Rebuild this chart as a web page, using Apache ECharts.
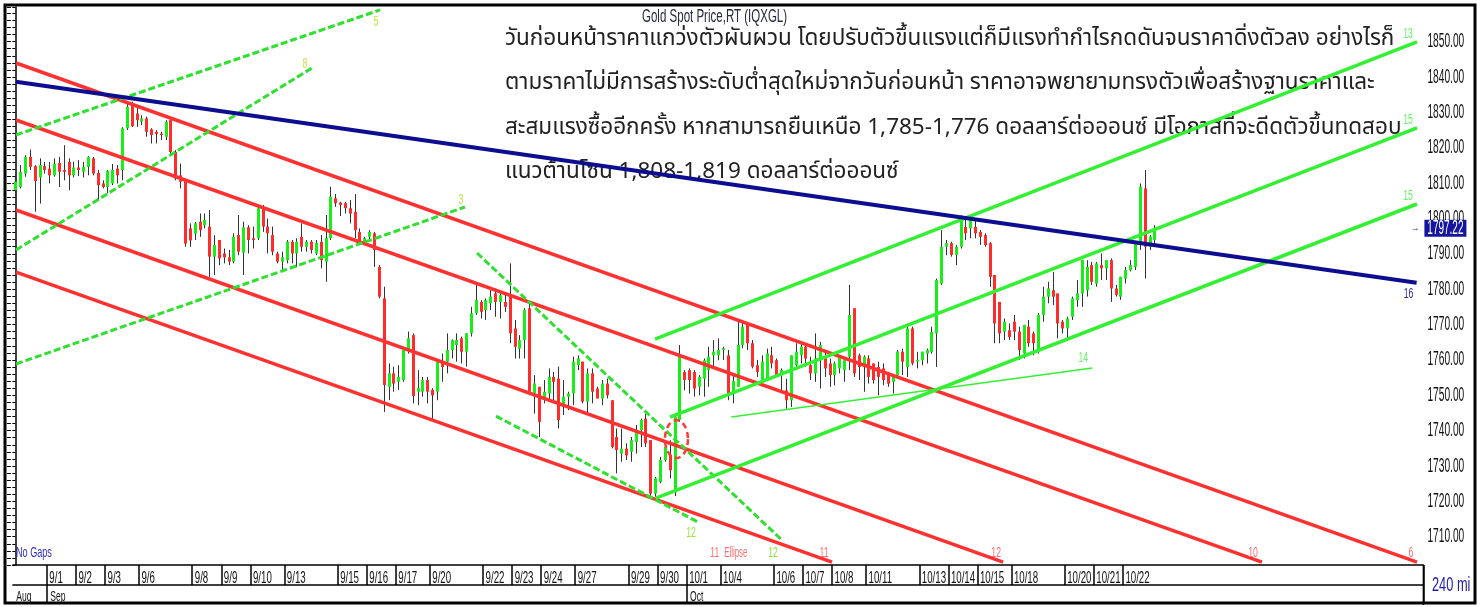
<!DOCTYPE html>
<html><head><meta charset="utf-8">
<script src="https://cdn.jsdelivr.net/npm/echarts@6/dist/echarts.min.js"></script>
<style>html,body{margin:0;padding:0;background:#fff}#c{width:1480px;height:607px}</style>
</head><body><div id="c"></div>
<script>
// ---------- DATA ----------
// trading sessions: [day label, number of 240-minute bars]
const sessions = [['8/31',7],['9/1',6],['9/2',6],['9/3',7],['9/6',11],['9/8',6],['9/9',6],['9/10',7],['9/13',11],['9/15',6],['9/16',6],['9/17',7],['9/20',11],['9/22',6],['9/23',6],['9/24',7],['9/27',11],['9/29',6],['9/30',6],['10/1',7],['10/4',11],['10/6',6],['10/7',6],['10/8',7],['10/11',11],['10/13',6],['10/14',6],['10/15',7],['10/18',11],['10/20',6],['10/21',6],['10/22',7]];
const futureBars = 55;
const monthNames = [['Aug','8/'],['Sep','9/'],['Oct','10/']];
// candles: [open, close, low, high]
const ohlc = [
[1808.0,1810.4,1806.3,1811.6],[1808.9,1813.2,1808.5,1815.1],[1812.7,1817.4,1811.8,1817.9],[1817.4,1814.6,1813.7,1819.5],[1814.8,1810.6,1801.9,1815.1],
[1811.6,1815.1,1804.2,1817.0],[1814.8,1813.7,1812.7,1816.0],[1814.1,1812.2,1809.9,1816.0],[1812.2,1815.5,1811.8,1817.0],[1815.7,1813.2,1808.9,1817.4],
[1813.7,1813.2,1810.8,1820.7],[1816.0,1812.2,1808.0,1817.0],[1812.2,1814.4,1811.6,1816.0],[1814.4,1813.7,1812.0,1816.5],[1813.2,1814.6,1811.6,1816.0],
[1814.6,1817.4,1812.2,1817.6],[1817.0,1812.7,1812.2,1817.4],[1812.9,1809.4,1805.2,1813.7],[1809.9,1808.9,1808.5,1810.8],[1808.9,1813.5,1807.1,1813.7],
[1809.9,1813.7,1809.4,1815.4],[1814.1,1812.2,1809.9,1815.1],[1813.7,1825.5,1810.8,1825.8],[1825.5,1831.6,1825.0,1833.0],[1832.1,1826.1,1825.9,1833.0],
[1829.7,1827.8,1825.9,1831.6],[1827.4,1828.3,1826.4,1829.2],[1828.3,1824.5,1823.1,1828.8],[1825.2,1823.6,1821.2,1825.5],[1824.5,1823.9,1821.2,1825.0],
[1824.0,1823.6,1822.2,1824.5],[1823.1,1827.3,1822.2,1827.8],[1827.8,1818.8,1817.9,1828.3],[1818.8,1811.3,1810.8,1819.3],[1812.2,1810.4,1808.5,1815.5],
[1810.8,1792.9,1792.0,1810.8],[1797.2,1793.8,1792.0,1798.6],[1795.7,1798.6,1793.9,1799.0],[1799.1,1796.7,1794.8,1801.4],[1798.1,1799.6,1797.2,1801.4],
[1797.7,1789.2,1783.5,1802.4],[1789.2,1792.5,1784.0,1795.3],[1793.9,1788.7,1786.8,1793.9],[1790.1,1789.0,1787.3,1791.5],[1789.0,1787.8,1786.8,1791.1],
[1787.8,1794.8,1787.3,1795.8],[1795.3,1790.6,1789.6,1801.0],[1790.3,1797.5,1784.0,1799.1],[1797.5,1793.9,1790.1,1798.1],[1794.4,1793.9,1791.5,1797.7],
[1794.4,1802.9,1793.9,1803.8],[1802.9,1797.7,1796.2,1803.8],[1797.7,1795.8,1790.1,1800.0],[1795.3,1790.6,1789.6,1797.7],[1790.1,1787.8,1787.3,1790.6],
[1787.8,1789.0,1785.4,1790.6],[1788.2,1793.4,1787.3,1793.9],[1793.4,1790.1,1787.3,1793.9],[1790.1,1793.4,1786.3,1794.4],[1794.8,1792.0,1790.6,1798.6],
[1792.0,1793.4,1790.6,1793.9],[1793.4,1791.1,1790.1,1793.9],[1790.1,1793.1,1789.6,1793.9],[1793.4,1788.2,1785.9,1795.3],[1787.8,1794.4,1782.1,1801.0],
[1794.4,1806.2,1793.9,1809.0],[1805.7,1804.3,1803.3,1806.9],[1804.5,1803.8,1800.7,1804.7],[1804.3,1802.9,1801.4,1804.7],[1802.9,1801.4,1798.6,1805.2],
[1801.9,1796.7,1794.4,1806.9],[1796.2,1793.4,1792.5,1797.2],[1793.4,1794.4,1793.0,1794.8],[1794.8,1796.2,1793.4,1796.7],[1795.8,1791.1,1786.3,1796.2],
[1786.3,1777.9,1777.4,1786.8],[1777.4,1752.9,1745.3,1780.7],[1752.4,1756.2,1748.6,1759.0],[1756.2,1753.3,1751.0,1758.1],[1753.8,1755.2,1751.5,1758.5],
[1754.3,1762.8,1753.8,1763.2],[1762.8,1766.1,1761.8,1768.0],[1767.0,1749.8,1747.7,1767.5],[1751.0,1752.0,1747.2,1757.1],[1751.0,1754.3,1749.6,1755.2],
[1754.3,1751.0,1747.7,1755.2],[1751.5,1750.0,1743.2,1752.0],[1751.0,1759.5,1748.6,1760.0],[1759.5,1758.0,1753.8,1761.8],[1759.5,1762.8,1756.2,1767.5],
[1762.8,1765.6,1760.4,1765.8],[1764.2,1765.6,1759.5,1767.5],[1766.1,1762.3,1759.0,1766.6],[1762.3,1767.5,1758.1,1767.5],[1767.5,1773.2,1766.6,1775.0],
[1773.2,1776.9,1772.7,1781.2],[1776.4,1773.6,1771.7,1776.9],[1774.1,1776.9,1771.3,1777.4],[1776.0,1777.9,1774.1,1779.7],[1778.8,1776.4,1772.2,1780.2],
[1776.4,1778.3,1771.7,1779.3],[1776.4,1775.0,1773.6,1778.8],[1778.3,1767.5,1764.7,1787.3],[1768.9,1763.7,1760.4,1771.3],[1763.2,1765.6,1760.4,1767.0],
[1765.6,1774.1,1760.4,1774.6],[1774.6,1751.0,1750.0,1776.0],[1750.5,1753.3,1744.8,1755.7],[1752.4,1742.5,1738.2,1752.4],[1749.0,1751.0,1747.7,1754.3],
[1750.5,1755.2,1749.0,1757.6],[1755.2,1753.8,1748.6,1756.6],[1754.7,1743.0,1740.6,1758.1],[1746.7,1749.6,1744.4,1754.3],[1749.6,1750.5,1745.8,1751.0],
[1750.5,1759.5,1747.2,1760.9],[1758.5,1760.4,1757.1,1761.3],[1759.5,1748.2,1747.7,1759.5],[1748.2,1756.2,1744.8,1757.6],[1756.2,1751.0,1747.7,1757.6],
[1751.9,1749.1,1749.1,1752.4],[1749.1,1753.3,1747.2,1754.3],[1753.3,1750.0,1749.1,1754.7],[1748.6,1735.4,1735.0,1748.6],[1738.2,1734.5,1727.9,1740.6],
[1733.5,1734.9,1731.2,1740.6],[1734.9,1733.0,1731.7,1736.4],[1734.0,1737.3,1731.2,1738.2],[1736.8,1740.1,1733.5,1741.6],[1740.1,1743.0,1735.4,1743.4],
[1743.4,1736.4,1735.4,1744.8],[1737.3,1722.2,1721.3,1737.3],[1722.2,1726.5,1721.3,1726.9],[1725.5,1731.7,1725.1,1732.6],[1731.7,1735.4,1731.2,1736.4],
[1733.1,1728.8,1726.5,1737.3],[1722.5,1744.0,1721.5,1745.0],[1743.0,1760.9,1742.5,1764.2],[1756.6,1754.3,1751.4,1757.1],[1757.1,1754.3,1750.5,1757.6],
[1756.6,1751.9,1749.6,1757.1],[1752.4,1755.2,1750.0,1755.7],[1754.7,1759.9,1749.6,1760.4],[1757.1,1760.9,1752.4,1763.7],[1761.3,1762.3,1758.1,1765.6],
[1761.3,1762.8,1759.9,1766.1],[1762.8,1763.3,1760.0,1763.7],[1761.3,1750.5,1748.6,1762.8],[1750.5,1754.0,1747.7,1755.7],[1752.4,1764.2,1752.4,1770.8],
[1764.2,1769.4,1763.3,1771.3],[1769.9,1764.7,1762.8,1770.4],[1764.7,1758.1,1757.6,1765.6],[1758.5,1756.6,1755.2,1760.0],[1754.3,1759.5,1753.3,1761.3],
[1754.8,1761.8,1754.3,1763.2],[1761.3,1759.0,1757.6,1763.7],[1759.9,1755.7,1755.2,1760.4],[1755.7,1757.1,1751.4,1757.6],[1751.4,1748.6,1746.2,1754.7],
[1748.6,1761.3,1746.7,1761.3],[1758.5,1762.3,1758.1,1764.7],[1761.3,1763.7,1759.0,1764.7],[1763.7,1760.4,1758.1,1764.7],[1758.5,1756.2,1754.3,1760.9],
[1756.2,1760.4,1753.8,1767.5],[1759.9,1764.2,1751.9,1765.1],[1760.9,1757.6,1755.2,1762.3],[1759.0,1755.7,1752.4,1760.4],[1755.7,1759.0,1752.8,1759.5],
[1757.6,1760.9,1756.2,1761.3],[1757.1,1759.9,1753.8,1760.4],[1760.9,1772.7,1757.1,1781.2],[1774.6,1756.2,1755.2,1774.6],[1761.3,1758.0,1754.3,1761.8],
[1758.0,1760.9,1751.0,1761.3],[1760.4,1755.2,1753.3,1761.3],[1759.0,1754.3,1753.3,1759.0],[1758.0,1755.2,1750.0,1759.5],[1757.6,1754.3,1752.8,1759.0],
[1756.2,1753.3,1752.4,1756.6],[1753.8,1755.2,1750.5,1755.7],[1755.7,1762.3,1755.2,1762.8],[1762.3,1759.5,1755.7,1763.2],[1758.0,1768.9,1755.2,1769.9],
[1768.9,1759.0,1758.5,1769.4],[1759.5,1760.0,1757.6,1762.3],[1759.9,1762.3,1758.5,1762.3],[1761.8,1762.8,1759.0,1763.2],[1762.3,1767.9,1761.8,1769.4],
[1767.5,1782.6,1758.0,1783.0],[1781.6,1792.0,1781.2,1796.7],[1792.0,1793.0,1789.6,1793.9],[1793.0,1789.7,1789.2,1793.4],[1789.7,1792.0,1786.8,1792.5],
[1792.0,1800.0,1791.5,1800.9],[1797.6,1795.8,1793.9,1800.5],[1797.2,1799.5,1794.4,1800.5],[1797.6,1795.8,1794.4,1800.0],[1796.2,1794.8,1792.5,1796.7],
[1795.3,1792.5,1792.0,1795.8],[1793.0,1783.5,1780.7,1793.4],[1784.0,1770.3,1764.7,1784.0],[1776.4,1767.5,1764.7,1776.4],[1768.0,1770.8,1765.6,1771.7],
[1768.4,1766.5,1765.6,1770.3],[1770.8,1768.0,1765.6,1772.7],[1768.0,1762.8,1760.0,1769.4],[1761.8,1769.9,1760.4,1769.9],[1769.4,1764.7,1763.7,1771.3],
[1767.5,1764.7,1761.3,1768.0],[1762.3,1772.7,1761.8,1773.2],[1772.7,1777.9,1770.8,1780.7],[1777.9,1780.2,1776.0,1782.1],[1779.7,1777.9,1775.5,1784.9],
[1778.8,1770.3,1766.1,1778.8],[1770.8,1768.9,1767.5,1771.3],[1768.9,1771.7,1766.1,1772.2],[1772.2,1777.4,1771.3,1777.9],[1776.9,1778.8,1775.0,1782.6],
[1778.8,1788.2,1775.0,1788.2],[1779.7,1786.3,1777.9,1788.2],[1786.8,1782.1,1781.2,1787.7],[1781.6,1787.3,1780.7,1787.7],[1786.8,1785.9,1782.6,1790.1],
[1785.9,1788.2,1782.6,1788.2],[1788.2,1780.2,1776.4,1788.7],[1780.2,1778.4,1777.9,1781.2],[1777.9,1783.5,1777.0,1783.5],[1783.0,1785.4,1781.6,1786.3],
[1785.4,1786.8,1785.0,1788.2],[1786.3,1793.0,1785.4,1793.4],[1793.0,1809.0,1791.1,1809.9],[1808.5,1792.0,1783.0,1813.7],[1792.0,1794.9,1791.1,1795.3],
[1793.9,1797.22,1792.8,1798.1]
];
const lastPrice = 1797.22;
const priceLabels = [1710,1720,1730,1740,1750,1760,1770,1780,1790,1800,1810,1820,1830,1840,1850];
// trend lines drawn on the chart: [barIndex, price] end points
const trendlines = [
  {name:'R1', from:[0.14,1843.97], to:[289.18,1702.82], label:'6'},
  {name:'R2', from:[0.14,1827.85], to:[257.2,1702.82], label:'10'},
  {name:'R3', from:[0.14,1802.39], to:[203.8,1702.82], label:'12'},
  {name:'R4', from:[0.14,1784.85], to:[168.5,1702.82], label:'11'},
  {name:'D5', from:[0.14,1823.61], to:[75.23,1858.97], label:'5'},
  {name:'D8', from:[0.14,1791.08], to:[61.21,1842.56], label:'8'},
  {name:'D3', from:[0.14,1758.84], to:[92.76,1803.24], label:'3'},
  {name:'D12a', from:[95.25,1790.24], to:[158.17,1709.05], label:'12'},
  {name:'D12b', from:[99.17,1744.12], to:[140.85,1714.13], label:'12'},
  {name:'T14', from:[147.7,1743.83], to:[222.2,1757.69], label:'14'},
  {name:'G1', from:[131.97,1765.90], to:[289.18,1849.92], label:'13'},
  {name:'G2', from:[135.07,1743.83], to:[289.18,1825.59], label:'15'},
  {name:'G3', from:[132.17,1720.92], to:[289.18,1804.09], label:'15'},
  {name:'B', from:[0.14,1838.68], to:[289.1,1781.82], label:'16'}
];
const ellipse = {center:[136.4,1737.6], radius:[2.37,5.37]};
const ellipseNote = {at:[147.1,1705.4], id:'11', text:'Ellipse'};
const thaiNote = [
 'วันก่อนหน้าราคาแกว่งตัวผันผวน โดยปรับตัวขึ้นแรงแต่ก็มีแรงทำกำไรกดดันจนราคาดิ่งตัวลง อย่างไรก็',
 'ตามราคาไม่มีการสร้างระดับต่ำสุดใหม่จากวันก่อนหน้า ราคาอาจพยายามทรงตัวเพื่อสร้างฐานราคาและ',
 'สะสมแรงซื้ออีกครั้ง หากสามารถยืนเหนือ 1,785-1,776 ดอลลาร์ต่อออนซ์ มีโอกาสที่จะดีดตัวขึ้นทดสอบ',
 'แนวต้านโซน 1,808-1,819 ดอลลาร์ต่อออนซ์'
];
const chartTitle = 'Gold Spot Price,RT (IQXGL)';
const gapNote = 'No Gaps';
const barPeriod = '240 mi';

// ---------- STYLES ----------
const SANS = "'Liberation Sans',Arial,sans-serif";
const RED = '#ff3232', GREEN = '#33f033', DGREEN = '#30e030', BLUE = '#0d0d8f';
const lineStyles = {
  R1:{c:RED,w:3.5,lc:'#ff6e6e',off:[-6,-9]}, R2:{c:RED,w:3.5,lc:'#ff6e6e',off:[-9,-9]},
  R3:{c:RED,w:3.5,lc:'#ff6e6e',off:[-7,-9]}, R4:{c:RED,w:3.5,lc:'#ff6e6e',off:[-8,-9]},
  D5:{c:DGREEN,w:3,dash:[7,3],lc:'#c0e83a',off:[-4,12]}, D8:{c:DGREEN,w:3,dash:[7,3],lc:'#d4dc3a',off:[-7,-4]},
  D3:{c:DGREEN,w:3,dash:[7,3],lc:'#b4e83a',off:[-4,-7]}, D12a:{c:DGREEN,w:3,dash:[7,3],lc:'#86e43a',off:[-9,13]},
  D12b:{c:DGREEN,w:3,dash:[7,3],lc:'#96e43a',off:[-7,11]}, T14:{c:GREEN,w:1.5,lc:'#66f266',off:[-9,-10]},
  G1:{c:GREEN,w:3.5,lc:'#66f266',off:[-9,-8]}, G2:{c:GREEN,w:3.5,lc:'#66f266',off:[-9,-8]},
  G3:{c:GREEN,w:3.5,lc:'#66f266',off:[-9,-8]}, B:{c:BLUE,w:4,lc:'#2a2aa8',off:[-8,11]}
};

// ---------- BUILD ----------
const cats = [], dayStarts = [], monthStarts = [];
sessions.forEach((s, si) => {
  for (let k = 0; k < s[1]; k++) {
    if (k === 0 && si > 0) dayStarts.push([cats.length, s[0]]);
    cats.push(s[0] + '|' + k);
  }
});
for (let k = 0; k < futureBars; k++) cats.push('f|' + k);
monthNames.forEach(m => {
  const idx = cats.findIndex(c => c.startsWith(m[1]));
  if (idx >= 0) monthStarts.push([idx, m[0]]);
});
const N = cats.length;
const daySet = new Set(dayStarts.map(d => d[0]));
const monthSet = new Set(monthStarts.map(d => d[0]));
const YMIN = 1702, YMAX = 1859.8;

function txt(x, y, str, size, fill, sx, align, va) {
  return {type:'text', x:x, y:y, scaleX:sx, scaleY:1,
    style:{text:str, x:0, y:0, fill:fill, font: size + 'px ' + SANS, align:align || 'left', verticalAlign:va || 'middle'}};
}

const series = [];
series.push({
  type:'custom', name:'candles', xAxisIndex:0, yAxisIndex:0, z:2, clip:true,
  data:ohlc.map((d, i) => [i, d[0], d[1], d[2], d[3]]), encode:{x:0, y:[1,2,3,4]},
  renderItem:(params, api) => {
    const i = api.value(0), o = api.value(1), c = api.value(2), l = api.value(3), h = api.value(4);
    const pO = api.coord([i,o]), pC = api.coord([i,c]), pL = api.coord([i,l]), pH = api.coord([i,h]);
    const x = Math.round(pO[0]) + 0.5;
    const top = Math.min(pO[1], pC[1]), bot = Math.max(pO[1], pC[1]);
    const bw = 3;
    return {type:'group', children:[
      {type:'line', shape:{x1:x, y1:pH[1], x2:x, y2:pL[1]}, style:{stroke:'#333', lineWidth:1}},
      {type:'rect', shape:{x:x - bw/2, y:top, width:bw, height:Math.max(1.2, bot - top)},
       style:{fill: c >= o ? '#18ee18' : '#ff2c2c'}}
    ]};
  }
});

trendlines.forEach(t => {
  const st = lineStyles[t.name];
  series.push({
    type:'line', name:t.name, xAxisIndex:2, yAxisIndex:0, z:3, silent:true,
    data:[t.from, t.to], symbol:'none', animation:false,
    lineStyle:{color:st.c, width:st.w, type: st.dash || 'solid', cap:'butt'}
  });
});

// ellipse (dashed)
series.push({
  type:'custom', name:'ellipse', xAxisIndex:2, yAxisIndex:0, z:4, silent:true,
  data:[[ellipse.center[0], ellipse.center[1], ellipse.radius[0], ellipse.radius[1]]],
  encode:{x:0, y:1},
  renderItem:(params, api) => {
    const c = api.coord([api.value(0), api.value(1)]);
    const sz = api.size([api.value(2), api.value(3)]);
    const pts = [];
    for (let k = 0; k <= 48; k++) {
      const a = k / 48 * Math.PI * 2;
      pts.push([c[0] + sz[0] * Math.cos(a), c[1] + sz[1] * Math.sin(a)]);
    }
    return {type:'polyline', shape:{points:pts}, style:{stroke:'#ff3a3a', lineWidth:2.5, lineDash:[6,4], fill:null}};
  }
});

// trend line labels + ellipse note
series.push({
  type:'custom', name:'lineLabels', xAxisIndex:2, yAxisIndex:0, z:6, silent:true, clip:false,
  data: trendlines.map((t, k) => [t.to[0], t.to[1], k]).concat([[ellipseNote.at[0], ellipseNote.at[1], -1]]),
  encode:{x:0, y:1},
  renderItem:(params, api) => {
    const k = api.value(2);
    const p = api.coord([api.value(0), api.value(1)]);
    if (k < 0) {
      return {type:'group', children:[
        txt(p[0] - 18, p[1], ellipseNote.id, 15, '#ff6e6e', 0.56, 'left'),
        txt(p[0] - 4, p[1], ellipseNote.text, 15, '#ff6e6e', 0.52, 'left')
      ]};
    }
    const st = lineStyles[trendlines[k].name];
    return txt(p[0] + st.off[0], p[1] + st.off[1], trendlines[k].label, 15, st.lc, 0.58, 'center');
  }
});

// price axis labels
series.push({
  type:'custom', name:'priceLabels', xAxisIndex:2, yAxisIndex:0, z:5, silent:true, clip:false,
  data: priceLabels.map(v => [N - 0.5, v]), encode:{x:0, y:1},
  renderItem:(params, api) => {
    const p = api.coord([api.value(0), api.value(1)]);
    return txt(p[0] + 4, p[1], api.value(1).toFixed(2), 20, '#111', 0.51, 'left');
  }
});

// date labels (day row + month row)
series.push({
  type:'custom', name:'dateLabels', xAxisIndex:2, yAxisIndex:0, z:5, silent:true, clip:false,
  data: dayStarts.map((d, k) => [d[0] - 0.5, YMIN, k, 0]).concat(monthStarts.map((d, k) => [d[0], YMIN, k, 1])),
  encode:{x:0, y:1},
  renderItem:(params, api) => {
    const p = api.coord([api.value(0), api.value(1)]);
    const k = api.value(2), row = api.value(3);
    if (row === 0) return txt(p[0] + 2.5, p[1] + 13, dayStarts[k][1], 17, '#111', 0.57, 'left');
    return txt(p[0] + 1, p[1] + 32, monthStarts[k][1], 15, '#111', 0.57, 'left');
  }
});

// current price tag
series.push({
  type:'custom', name:'lastTag', xAxisIndex:2, yAxisIndex:0, z:8, silent:true, clip:false,
  data:[[N - 0.5, lastPrice]], encode:{x:0, y:1},
  renderItem:(params, api) => {
    const p = api.coord([api.value(0), api.value(1)]);
    return {type:'group', children:[
      {type:'rect', shape:{x:p[0] + 1, y:p[1] - 8.5, width:42, height:17}, style:{fill:'#1515a0'}},
      txt(p[0] + 22, p[1] + 0.5, api.value(1).toFixed(2), 20, '#ffffff', 0.5, 'center'),
      txt(p[0] - 8, p[1], '\u2192', 11, '#2424b0', 0.8, 'center')
    ]};
  }
});

const option = {
  animation:false,
  backgroundColor:'#ffffff',
  grid:{left:12.9, right:56.6, top:7, bottom:42, containLabel:false},
  xAxis:[
    {type:'category', data:cats, gridIndex:0, position:'bottom', boundaryGap:true,
     axisLine:{show:true, lineStyle:{color:'#000', width:1.5}},
     axisTick:{show:true, interval:(i)=>daySet.has(i), length:20, lineStyle:{color:'#000', width:1.5}},
     axisLabel:{show:false}, splitLine:{show:false}},
    {type:'category', data:cats, gridIndex:0, position:'bottom', offset:20, boundaryGap:true,
     axisLine:{show:true, lineStyle:{color:'#000', width:1.5}},
     axisTick:{show:true, interval:(i)=>monthSet.has(i) && i > 0, length:19, lineStyle:{color:'#000', width:1.5}},
     axisLabel:{show:false}, splitLine:{show:false}},
    {type:'value', gridIndex:0, min:-0.5, max:N - 0.5, show:false}
  ],
  yAxis:[
    {type:'value', position:'right', min:YMIN, max:YMAX, interval:2,
     axisLine:{show:true, lineStyle:{color:'#000', width:1.5}},
     axisTick:{show:true, inside:true, length:3, lineStyle:{color:'#000'}},
     axisLabel:{show:false}, splitLine:{show:false}},
    {type:'value', position:'left', offset:6, min:YMIN, max:YMAX, interval:2,
     axisLine:{show:false}, axisTick:{show:true, inside:true, length:4, lineStyle:{color:'#000'}},
     axisLabel:{show:false}, splitLine:{show:false}}
  ],
  series:series,
  graphic:[
    {type:'text', z:0, x:505, y:18, silent:true,
     style:{text:thaiNote.join('\n'), fill:'#222', font:"22.5px 'Noto Sans Thai','Tahoma','Noto Sans',sans-serif", lineHeight:44.5}},
    {type:'text', z:10, x:642, y:8, scaleX:0.64, silent:true,
     style:{text:chartTitle, fill:'#28283e', font:"18px " + SANS}},
    {type:'text', z:10, x:16, y:546, scaleX:0.65, silent:true,
     style:{text:gapNote, fill:'#3030c8', font:"14px " + SANS}},
    {type:'text', z:10, x:1432, y:575, scaleX:0.64, silent:true,
     style:{text:barPeriod, fill:'#2020a8', font:"20px " + SANS}},
    {type:'line', z:10, silent:true, shape:{x1:1423.4, y1:565, x2:1423.4, y2:605}, style:{stroke:'#000', lineWidth:1.5}},
    {type:'rect', z:20, silent:true, shape:{x:5, y:5, width:1470, height:598}, style:{stroke:'#000', lineWidth:3, fill:null}}
  ]
};

const chart = echarts.init(document.getElementById('c'), null, {renderer:'canvas'});
chart.setOption(option);
</script>
</body></html>
